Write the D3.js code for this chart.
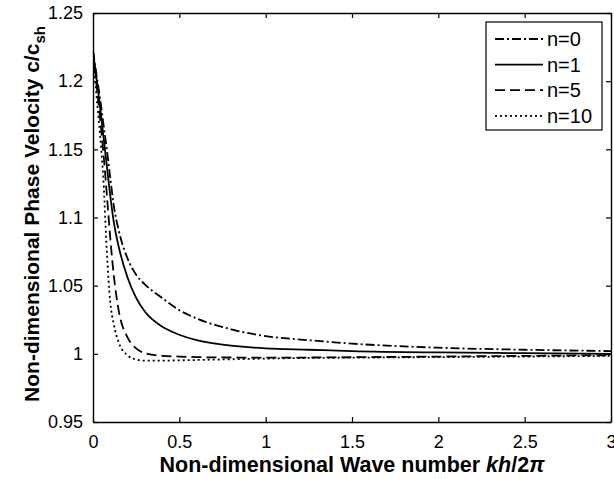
<!DOCTYPE html>
<html><head><meta charset="utf-8">
<script src="https://cdn.jsdelivr.net/npm/d3@7"></script>
<style>body{margin:0;background:#fff}svg{display:block;font-family:"Liberation Sans",Arial,sans-serif}</style>
</head><body><svg id="c" width="614" height="479"></svg>
<script>
const xValues = [0, 0.02, 0.04, 0.06, 0.08, 0.1, 0.12, 0.15, 0.2, 0.25, 0.3, 0.4, 0.5, 0.6, 0.8, 1.0, 1.25, 1.5, 2.0, 2.5, 3.0];
const n0 = [1.222, 1.205, 1.188, 1.169, 1.150, 1.129, 1.109, 1.090, 1.070, 1.058, 1.051, 1.041, 1.032, 1.026, 1.018, 1.013, 1.010, 1.0075, 1.0045, 1.003, 1.002];
const n1 = [1.222, 1.202, 1.182, 1.160, 1.138, 1.116, 1.097, 1.078, 1.056, 1.041, 1.031, 1.020, 1.014, 1.010, 1.006, 1.004, 1.003, 1.002, 1.001, 1.0005, 1.0];
const n5 = [1.222, 1.198, 1.174, 1.148, 1.117, 1.085, 1.058, 1.031, 1.012, 1.004, 1.0005, 0.9985, 0.998, 0.9976, 0.9973, 0.9972, 0.9973, 0.9975, 0.998, 0.9985, 0.999];
const n10 = [1.222, 1.190, 1.162, 1.128, 1.075, 1.038, 1.022, 1.008, 0.999, 0.9958, 0.995, 0.995, 0.9952, 0.9955, 0.996, 0.9965, 0.997, 0.9972, 0.9976, 0.998, 0.9985];
const seriesNames = ["n=0", "n=1", "n=5", "n=10"];
const xTicks = [0, 0.5, 1, 1.5, 2, 2.5, 3];
const yTicks = [0.95, 1, 1.05, 1.1, 1.15, 1.2, 1.25];

const dashes = ["9,3,2,3", null, "10,5", "2,3"];
const series = [n0, n1, n5, n10];

const svg = d3.select("#c");
const L = 93, R = 611, T = 13, B = 422;
const x = d3.scaleLinear().domain([0, 3]).range([L, R]);
const y = d3.scaleLinear().domain([0.95, 1.25]).range([B, T]);

svg.append("clipPath").attr("id","cp").append("rect").attr("x",L).attr("y",T).attr("width",R-L).attr("height",B-T);

const line = d3.line().x((d,i)=>x(xValues[i])).y(d=>y(d)).curve(d3.curveMonotoneX);
series.forEach((s,i)=>{
  svg.append("path").datum(s).attr("d", line).attr("fill","none").attr("stroke","#000")
    .attr("stroke-width",1.8).attr("clip-path","url(#cp)")
    .attr("stroke-dasharray", dashes[i]);
});

const fmt = d => String(d);
const gx = svg.append("g").attr("transform",`translate(0,${B})`)
  .call(d3.axisBottom(x).tickValues(xTicks).tickSizeInner(-5).tickSizeOuter(0).tickPadding(13).tickFormat(fmt));
const gxt = svg.append("g").attr("transform",`translate(0,${T})`)
  .call(d3.axisTop(x).tickValues(xTicks).tickSizeInner(-5).tickSizeOuter(0).tickFormat(""));
const gy = svg.append("g").attr("transform",`translate(${L},0)`)
  .call(d3.axisLeft(y).tickValues(yTicks).tickSizeInner(-5).tickSizeOuter(0).tickPadding(10).tickFormat(fmt));
const gyr = svg.append("g").attr("transform",`translate(${R},0)`)
  .call(d3.axisRight(y).tickValues(yTicks).tickSizeInner(-5).tickSizeOuter(0).tickFormat(""));
[gx,gxt,gy,gyr].forEach(g=>{
  g.selectAll("path").attr("stroke","#000").attr("stroke-width",1.4);
  g.selectAll("line").attr("stroke","#000").attr("stroke-width",1.2);
  g.selectAll("text").attr("fill","#000").style("font-size","18px").style("font-family","'Liberation Sans',Arial,sans-serif");
});

const xl = svg.append("text").attr("x", 352).attr("y", 472).attr("text-anchor","middle")
  .style("font-size","21.5px").style("font-weight","bold");
xl.append("tspan").text("Non-dimensional Wave number ");
xl.append("tspan").style("font-style","italic").text("kh");
xl.append("tspan").text("/2");
xl.append("tspan").style("font-style","italic").text("π");

const yl = svg.append("text").attr("transform","translate(39,214) rotate(-90)").attr("text-anchor","middle")
  .style("font-size","21px").style("font-weight","bold");
yl.append("tspan").text("Non-dimensional Phase Velocity  c/c");
yl.append("tspan").attr("dy",6).style("font-size","15px").text("sh");

const lg = svg.append("g");
lg.append("rect").attr("x",486).attr("y",22).attr("width",116).attr("height",108)
  .attr("fill","#fff").attr("stroke","#000").attr("stroke-width",1.2);
seriesNames.forEach((nm,i)=>{
  const yy = 39 + i*25.6;
  lg.append("line").attr("x1",495).attr("x2",543).attr("y1",yy).attr("y2",yy)
    .attr("stroke","#000").attr("stroke-width",1.8).attr("stroke-dasharray",dashes[i]);
  lg.append("text").attr("x",547).attr("y",yy+7).style("font-size","20px").text(nm);
});
</script></body></html>
